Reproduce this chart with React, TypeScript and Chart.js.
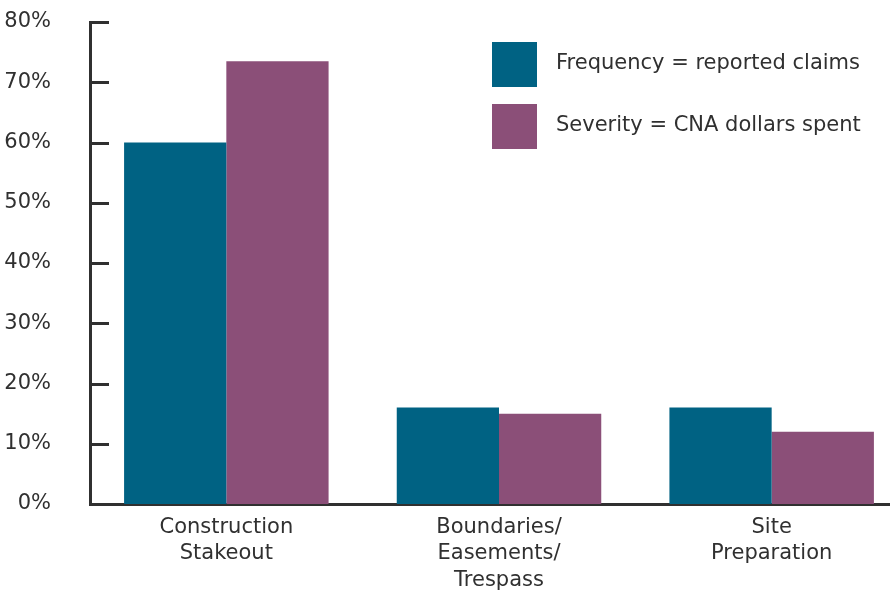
import React, { useEffect, useRef } from "react";
import { Chart, registerables } from "chart.js";

Chart.register(...registerables);

const categories: string[][] = [
  ["Construction", "Stakeout"],
  ["Boundaries/", "Easements/", "Trespass"],
  ["Site", "Preparation"],
];
const frequency: number[] = [60, 16, 16];
const severity: number[] = [73.5, 15, 12];
const seriesLabels: string[] = ["Frequency = reported claims", "Severity = CNA dollars spent"];
const yTicks: number[] = [0, 10, 20, 30, 40, 50, 60, 70, 80];

const TEAL = "#006283";
const PURPLE = "#8b4f78";
const INK = "#303030";
const FONT = "'DejaVu Sans', Roboto, sans-serif";
const FONT_SIZE = 21;

// Short tick marks pointing into the plot from the y axis
const innerTicks = {
  id: "innerTicks",
  afterDatasetsDraw(chart: any) {
    const { ctx, chartArea, scales } = chart;
    const y = scales.y;
    ctx.save();
    ctx.strokeStyle = INK;
    ctx.lineWidth = 3;
    y.ticks.forEach((t: any) => {
      if (t.value === 0) return;
      const py = Math.round(y.getPixelForValue(t.value)) + 0.5;
      ctx.beginPath();
      ctx.moveTo(chartArea.left, py);
      ctx.lineTo(chartArea.left + 19, py);
      ctx.stroke();
    });
    ctx.restore();
  },
};

// Legend boxes with labels in the upper right of the plot
const boxLegend = {
  id: "boxLegend",
  afterDraw(chart: any) {
    const { ctx } = chart;
    ctx.save();
    ctx.font = `${FONT_SIZE}px ${FONT}`;
    ctx.textBaseline = "middle";
    ctx.textAlign = "left";
    chart.data.datasets.forEach((ds: any, i: number) => {
      const top = 42 + i * 62;
      ctx.fillStyle = ds.backgroundColor;
      ctx.fillRect(492, top, 45, 45);
      ctx.fillStyle = INK;
      ctx.fillText(ds.label, 556, top + 22);
    });
    ctx.restore();
  },
};

export default function App() {
  const ref = useRef<HTMLCanvasElement | null>(null);

  useEffect(() => {
    if (!ref.current) return;
    const chart = new Chart(ref.current, {
      type: "bar",
      data: {
        labels: categories,
        datasets: [
          { label: seriesLabels[0], data: frequency, backgroundColor: TEAL, borderWidth: 0 },
          { label: seriesLabels[1], data: severity, backgroundColor: PURPLE, borderWidth: 0 },
        ],
      },
      options: {
        animation: false,
        responsive: false,
        maintainAspectRatio: false,
        layout: { padding: { top: 22, right: 0, bottom: 0, left: 0 } },
        plugins: {
          legend: { display: false },
          tooltip: { enabled: false },
        },
        datasets: {
          bar: { categoryPercentage: 0.75, barPercentage: 1.0 },
        },
        scales: {
          x: {
            grid: { display: false, drawTicks: false },
            border: { display: true, color: INK, width: 3 },
            ticks: {
              color: INK,
              font: { family: FONT, size: FONT_SIZE, lineHeight: 1.27 },
              padding: 10,
              maxRotation: 0,
              autoSkip: false,
            },
            afterFit(scale: any) {
              scale.height = 88;
              scale.paddingLeft = 0;
              scale.paddingRight = 0;
            },
          },
          y: {
            min: 0,
            max: 80,
            afterBuildTicks(scale: any) {
              scale.ticks = yTicks.map((v) => ({ value: v }));
            },
            grid: { display: false, drawTicks: false },
            border: { display: true, color: INK, width: 3 },
            ticks: {
              color: INK,
              font: { family: FONT, size: FONT_SIZE },
              padding: 39,
              callback: (v: any) => `${v}%`,
            },
            afterFit(scale: any) {
              scale.width = 90;
              scale.paddingTop = 0;
              scale.paddingBottom = 0;
            },
          },
        },
      },
      plugins: [innerTicks, boxLegend],
    });
    return () => chart.destroy();
  }, []);

  return (
    <div
      style={{
        position: "absolute",
        left: 0,
        top: 0,
        width: 890,
        height: 592,
        overflow: "hidden",
        background: "#fff",
      }}
    >
      <canvas ref={ref} width={908} height={592} style={{ display: "block" }} />
    </div>
  );
}
